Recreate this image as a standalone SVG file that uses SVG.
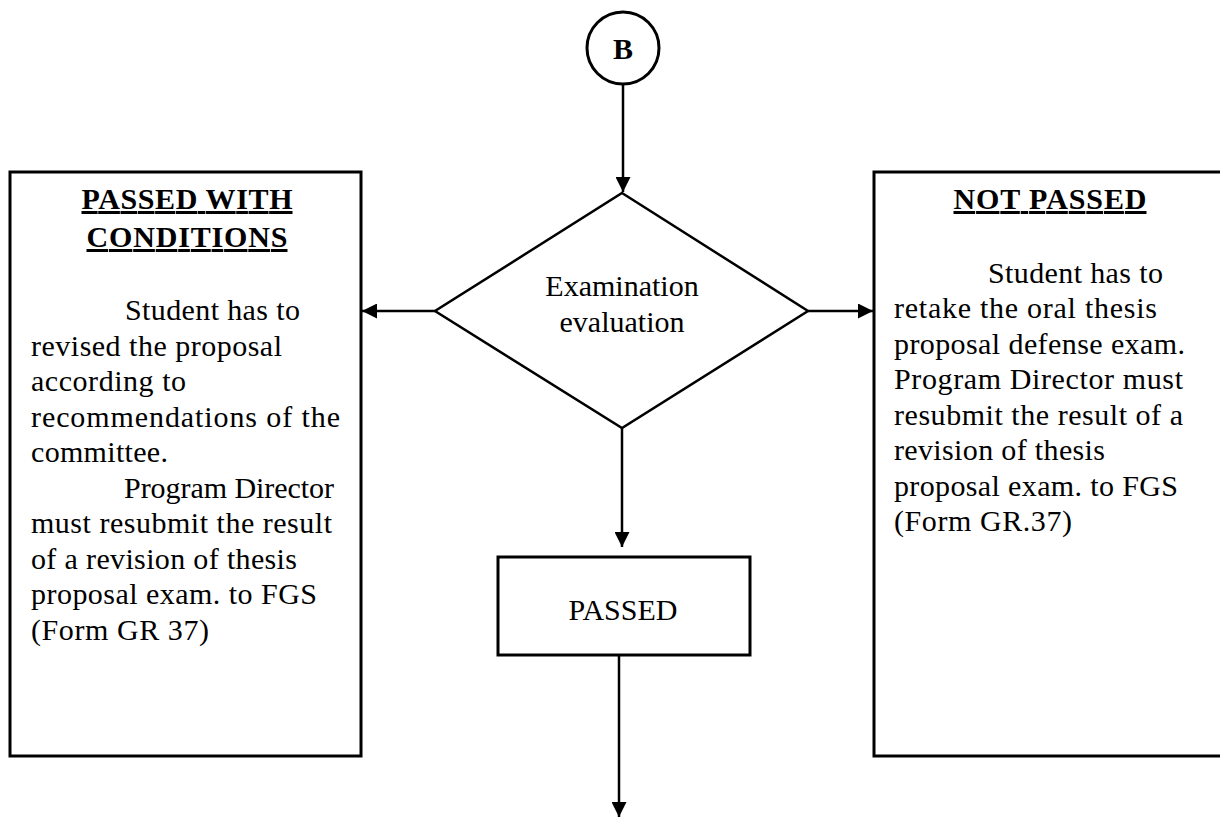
<svg xmlns="http://www.w3.org/2000/svg" width="1220" height="818" viewBox="0 0 1220 818">
<style>
text{font-family:"Liberation Serif","Times New Roman",serif;fill:#000}
.t{font-size:30px}
.h{font-size:30px;font-weight:bold;text-decoration:underline}
.c{text-anchor:middle}
.box{fill:#fff;stroke:#000;stroke-width:3}
.ln{stroke:#000;stroke-width:2.5;fill:none}
</style>
<defs>
<marker id="ah" viewBox="0 0 16 16" refX="16" refY="8" markerWidth="15" markerHeight="15" markerUnits="userSpaceOnUse" orient="auto">
<path d="M0,0 L16,8 L0,16 Z" fill="#000"/>
</marker>
</defs>
<rect width="1220" height="818" fill="#fff"/>
<g id="connectors">
<line class="ln" x1="623" y1="85" x2="623" y2="192" marker-end="url(#ah)"/>
<line class="ln" x1="435" y1="311" x2="362" y2="311" marker-end="url(#ah)"/>
<line class="ln" x1="808" y1="311" x2="873" y2="311" marker-end="url(#ah)"/>
<line class="ln" x1="622" y1="428" x2="622" y2="547" marker-end="url(#ah)"/>
<line class="ln" x1="619" y1="655" x2="619" y2="817" marker-end="url(#ah)"/>
</g>
<g id="connector-B">
<circle cx="623" cy="48" r="36" fill="#fff" stroke="#000" stroke-width="3"/>
<text class="c" x="623" y="59" style="font-size:30px;font-weight:bold">B</text>
</g>
<g id="decision">
<polygon points="622,193 808,311 622,428 435,311" fill="#fff" stroke="#000" stroke-width="2.5"/>
<text class="t c" x="622" y="296">Examination</text>
<text class="t c" x="622" y="332">evaluation</text>
</g>
<g id="passed-with-conditions">
<rect class="box" x="10" y="172" width="351" height="584"/>
<text class="h c" x="187" y="209" textLength="211" lengthAdjust="spacing">PASSED WITH</text>
<text class="h c" x="187" y="247" textLength="201" lengthAdjust="spacing">CONDITIONS</text>
<g class="t" xml:space="preserve">
<text x="125" y="320" textLength="175" lengthAdjust="spacing">Student has to</text>
<text x="31" y="356" textLength="251" lengthAdjust="spacing">revised the proposal</text>
<text x="31" y="391" textLength="155" lengthAdjust="spacing">according to</text>
<text x="31" y="427" textLength="309" lengthAdjust="spacing">recommendations  of the</text>
<text x="31" y="462" textLength="137" lengthAdjust="spacing">committee.</text>
<text x="124" y="498" textLength="210" lengthAdjust="spacing">Program Director</text>
<text x="31" y="533" textLength="301" lengthAdjust="spacing">must resubmit the result</text>
<text x="31" y="569" textLength="266" lengthAdjust="spacing">of a revision of thesis</text>
<text x="31" y="604" textLength="286" lengthAdjust="spacing">proposal exam. to FGS</text>
<text x="31" y="640" textLength="178" lengthAdjust="spacing">(Form GR 37)</text>
</g>
</g>
<g id="not-passed">
<rect class="box" x="874" y="172" width="352" height="584"/>
<text class="h c" x="1050" y="209" textLength="193" lengthAdjust="spacing">NOT PASSED</text>
<g class="t" xml:space="preserve">
<text x="988" y="283" textLength="175" lengthAdjust="spacing">Student has to</text>
<text x="894" y="318" textLength="263" lengthAdjust="spacing">retake the oral  thesis</text>
<text x="894" y="354" textLength="291" lengthAdjust="spacing">proposal defense exam.</text>
<text x="894" y="389" textLength="289" lengthAdjust="spacing">Program Director must</text>
<text x="894" y="425" textLength="289" lengthAdjust="spacing">resubmit the result of a</text>
<text x="894" y="460" textLength="211" lengthAdjust="spacing">revision of thesis</text>
<text x="894" y="496" textLength="284" lengthAdjust="spacing">proposal exam. to FGS</text>
<text x="894" y="531" textLength="178" lengthAdjust="spacing">(Form GR.37)</text>
</g>
</g>
<g id="passed">
<rect class="box" x="498" y="557" width="252" height="98"/>
<text class="t c" x="623" y="620">PASSED</text>
</g>
</svg>
